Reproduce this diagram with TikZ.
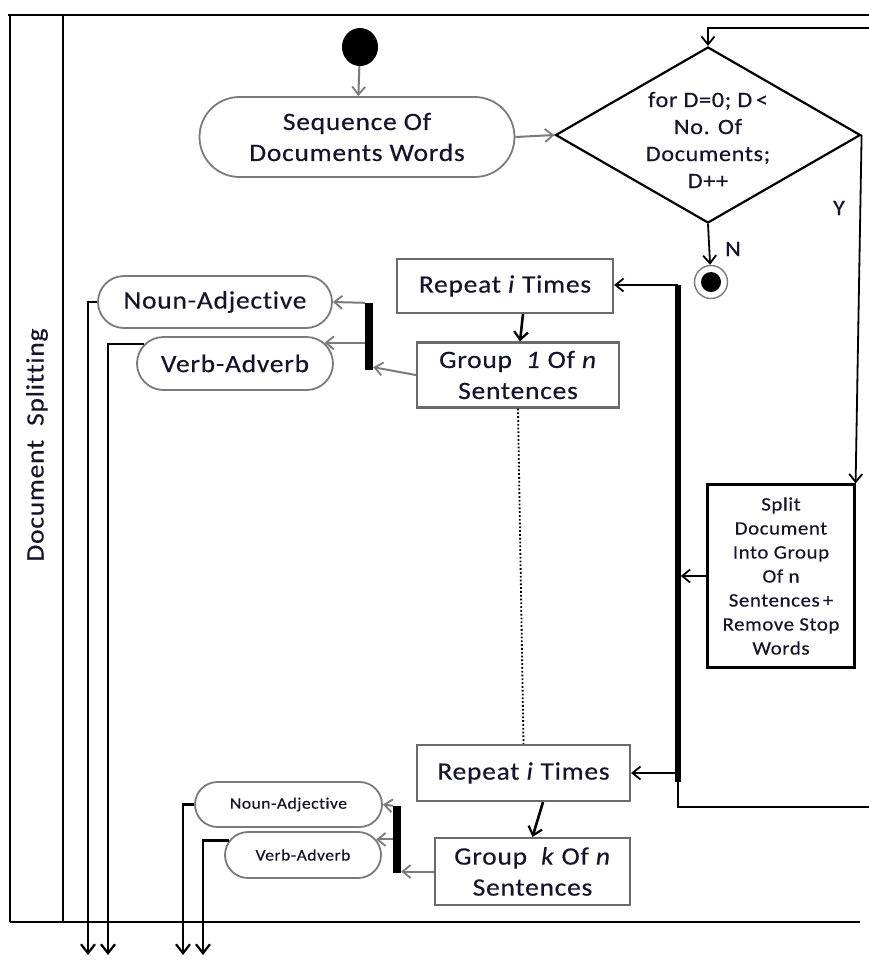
\documentclass[tikz,border=0pt]{standalone}
\usepackage{fontspec}
\setmainfont{Carlito}[FakeStretch=1.1, LetterSpace=3, FakeBold=0.4, Ligatures=CommonOff]
\usetikzlibrary{arrows.meta,shapes.geometric,shapes.misc}
\definecolor{txt}{HTML}{14142A}
\definecolor{lgray}{HTML}{7A7A7A}
\definecolor{bgray}{HTML}{6A6A6A}
\tikzset{
  tip/.style={-{Straight Barb[length=8pt,width=13pt,line width=1.8pt]}},
  garrow/.style={tip, draw=lgray, line width=2pt},
  barrow/.style={tip, draw=black, line width=1.8pt},
  karrow/.style={-{Straight Barb[length=8pt,width=14pt,line width=2.2pt]}, draw=black, line width=2.6pt},
  outarrow/.style={-{Straight Barb[length=9pt,width=14pt,line width=2.2pt]}, draw=black, line width=2.6pt},
  stadium/.style={rounded rectangle, draw=lgray, line width=1.8pt, inner sep=0pt, text=txt, align=center},
  actbox/.style={rectangle, draw=bgray, line width=2.2pt, inner sep=0pt, text=txt, align=center},
  forkbar/.style={rectangle, fill=black, inner sep=0pt, minimum width=8pt},
  bigfont/.style={font=\fontsize{25}{31}\selectfont},
  midfont/.style={font=\fontsize{22}{27}\selectfont},
  smallfont/.style={font=\fontsize{19}{24}\selectfont},
  tinyfont/.style={font=\fontsize{16}{20}\selectfont},
  frame/.style={draw=black, line width=2.6pt}
}
\begin{document}
\begin{tikzpicture}[x=1pt,y=-1pt]
\useasboundingbox (0,0) rectangle (869,962);

% swimlane frame
\draw[frame] (8,15) -- (869,15);
\draw[frame] (10,15) -- (10,922);
\draw[frame] (63,15) -- (63,922);
\draw[frame] (10,922) -- (860,922);
\node[bigfont, text=txt, rotate=90] (lane) at (37,445) {Document\ \ Splitting};

% initial node and first action
\node[ellipse, fill=black, minimum width=36pt, minimum height=38pt, inner sep=0pt] (start) at (360,47) {};
\node[stadium, bigfont, minimum width=315pt, minimum height=80pt] (seq) at (357,137) {Sequence Of\\Documents Words};

% loop decision
\node[diamond, draw=black, line width=2.2pt, minimum width=305pt, minimum height=176pt, inner sep=0pt] (dia) at (708,135) {};
\node[midfont, text=txt, align=center] (diatxt) at (708,140) {for D=0; D\,<\\No. Of\\Documents;\\D++};

% final node
\node[circle, draw=lgray, line width=1.4pt, minimum size=33pt, inner sep=0pt] (fin) at (711,282) {};
\node[circle, fill=black, minimum size=20pt, inner sep=0pt] (finc) at (fin.center) {};

% split action
\node[rectangle, draw=black, line width=2.2pt, minimum width=147pt, minimum height=183pt, smallfont, text=txt, align=center, inner sep=0pt] (split) at (781,576)
  {Split\\Document\\Into Group\\Of n\\Sentences\,+\\Remove Stop\\Words};

% first group of sentences
\node[actbox, bigfont, minimum width=216pt, minimum height=54pt] (rep1) at (505,286) {Repeat \textit{i} Times};
\node[actbox, bigfont, minimum width=202pt, minimum height=65pt] (grp1) at (518,375) {Group \ \textit{1} Of \textit{n}\\Sentences};
\node[forkbar, minimum height=67pt] (fork1) at (369,336.5) {};
\node[stadium, bigfont, minimum width=234pt, minimum height=52pt] (na1) at (215,302) {Noun-Adjective};
\node[stadium, bigfont, minimum width=196pt, minimum height=53pt] (va1) at (235,363.5) {Verb-Adverb};

% last group of sentences
\node[actbox, bigfont, minimum width=213pt, minimum height=56pt] (rep2) at (523.5,773) {Repeat \textit{i} Times};
\node[actbox, bigfont, minimum width=195pt, minimum height=67pt] (grpk) at (532.5,871.5) {Group \ \textit{k} Of \textit{n}\\Sentences};
\node[forkbar, minimum height=67pt] (fork2) at (397,839.5) {};
\node[stadium, tinyfont, minimum width=187pt, minimum height=45pt] (na2) at (288.5,804.5) {Noun-Adjective};
\node[stadium, tinyfont, minimum width=156pt, minimum height=46pt] (va2) at (303,855) {Verb-Adverb};

% loop bar and free ends
\coordinate (loopin) at (869,28);
\coordinate (loopout) at (869,807);
\coordinate (bt) at (678,285);
\coordinate (bb) at (678,782);
\coordinate (o1) at (88,955);
\coordinate (o2) at (108,955);
\coordinate (o3) at (183,955);
\coordinate (o4) at (203,955);

% connectors
\draw[garrow] (start) -- (seq);
\draw[garrow] (seq.east) -- (dia.west);
\draw[barrow] (loopin) -| (dia.north);
\draw[barrow] (dia.east) -- (split.north east);
\node[midfont, text=txt] (ylab) at (839,208) {Y};
\draw[barrow] (dia.south) -- (fin);
\node[midfont, text=txt] (nlab) at (733,249) {N};

\draw[draw=black, line width=5.5pt] (bt) -- (bb);
\draw[draw=black, line width=2.2pt] (bb) |- (loopout);
\draw[barrow] (bt) -- (bt -| rep1.east);
\draw[barrow, shorten >=2.75pt] (split.west) -- (split.west -| bt);
\draw[barrow] (bb |- rep2.east) -- (rep2.east);

\draw[karrow] ([xshift=18pt]rep1.south) -- ([xshift=2pt]grp1.north);
\draw[black, line width=1.8pt, dotted] (grp1.south) -- (rep2.north);
\draw[karrow] ([xshift=19.5pt]rep2.south) -- (grpk.north);

\draw[garrow] (grp1.west) -- ([yshift=3pt]fork1.south east);
\draw[garrow] (fork1.north west) -- (na1.east);
\draw[garrow] (fork1.west |- va1.13) -- (va1.13);
\draw[garrow] (grpk.west) -- (grpk.west -| fork2.east);
\draw[garrow] (fork2.north west) -- (na2.east);
\draw[garrow] (fork2.west |- va2.12) -- (va2.12);

\draw[outarrow] (na1.west) -| (o1);
\draw[outarrow] (va1.168) -| (o2);
\draw[outarrow] (na2.west) -| (o3);
\draw[outarrow] (va2.169) -| (o4);
\end{tikzpicture}
\end{document}
